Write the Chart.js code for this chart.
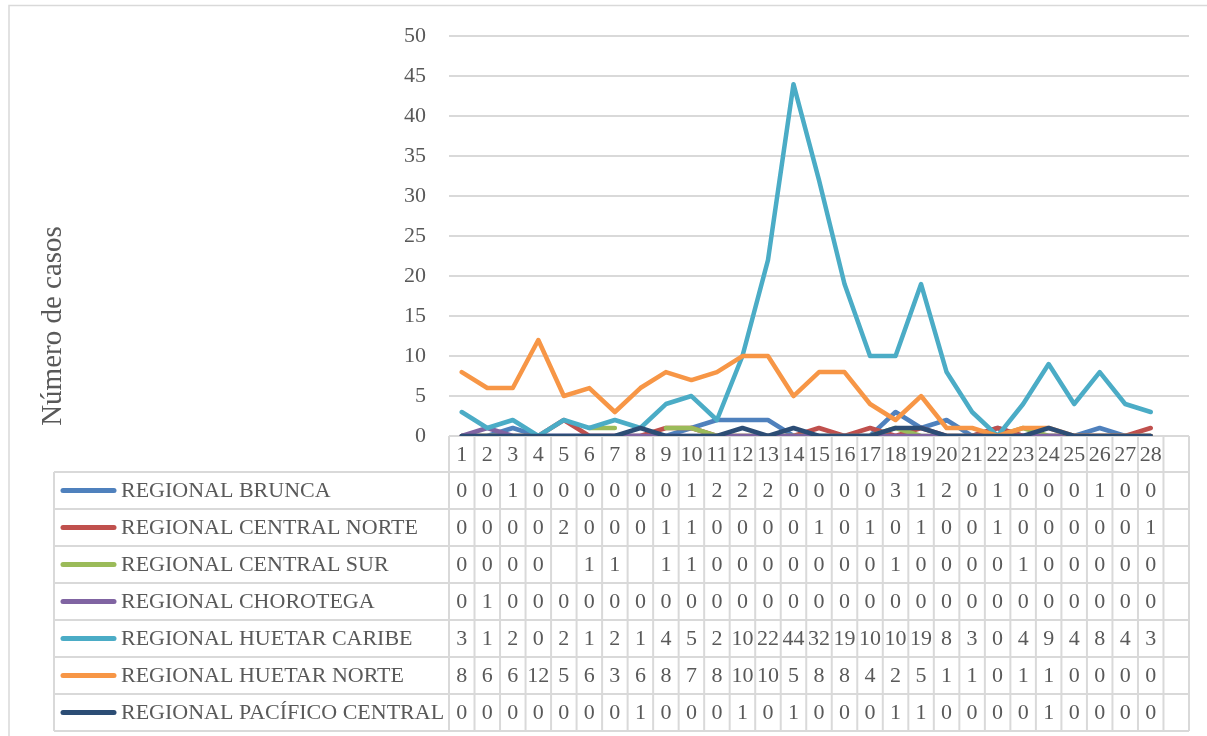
<!DOCTYPE html>
<html>
<head>
<meta charset="utf-8">
<script src="https://cdn.jsdelivr.net/npm/chart.js@4.4.0/dist/chart.umd.min.js"></script>
<style>
    html, body { margin: 0; padding: 0; background: #fff; }
    #wrap { width: 1207px; height: 736px; position: relative; }
</style>
</head>
<body>
<div id="wrap"><canvas id="casesChart" width="1207" height="736"></canvas></div>
<script>
// Weeks (last column of the data table is empty)
const weeks = ['1','2','3','4','5','6','7','8','9','10','11','12','13','14','15','16','17','18','19','20','21','22','23','24','25','26','27','28',''];

const regions = [
    'REGIONAL BRUNCA',
    'REGIONAL CENTRAL NORTE',
    'REGIONAL CENTRAL SUR',
    'REGIONAL CHOROTEGA',
    'REGIONAL HUETAR CARIBE',
    'REGIONAL HUETAR NORTE',
    'REGIONAL PACÍFICO CENTRAL'
];

const brunca        = [0,0,1,0,0,0,0,0,0,1,2,2,2,0,0,0,0,3,1,2,0,1,0,0,0,1,0,0];
const centralNorte  = [0,0,0,0,2,0,0,0,1,1,0,0,0,0,1,0,1,0,1,0,0,1,0,0,0,0,0,1];
const centralSur    = [0,0,0,0,null,1,1,null,1,1,0,0,0,0,0,0,0,1,0,0,0,0,1,0,0,0,0,0];
const chorotega     = [0,1,0,0,0,0,0,0,0,0,0,0,0,0,0,0,0,0,0,0,0,0,0,0,0,0,0,0];
const huetarCaribe  = [3,1,2,0,2,1,2,1,4,5,2,10,22,44,32,19,10,10,19,8,3,0,4,9,4,8,4,3];
const huetarNorte   = [8,6,6,12,5,6,3,6,8,7,8,10,10,5,8,8,4,2,5,1,1,0,1,1,0,0,0,0];
const pacificoCentral = [0,0,0,0,0,0,0,1,0,0,0,1,0,1,0,0,0,1,1,0,0,0,0,1,0,0,0,0];

const yTicks = [0, 5, 10, 15, 20, 25, 30, 35, 40, 45, 50];

const seriesValues = [brunca, centralNorte, centralSur, chorotega, huetarCaribe, huetarNorte, pacificoCentral];
const colors = ['#4f81bd', '#c0504d', '#9bbb59', '#8064a2', '#4bacc6', '#f79646', '#2c4d75'];

const FONT = '"Liberation Serif", "DejaVu Serif", serif';
const TEXT = '#595959';
const GRID = '#d9d9d9';

// Table geometry
const ROW_H = 37;
const HEADER_BOTTOM = 472;
const TABLE_LEFT = 54;

// Draws the outer border, the data table with legend keys and the axis title
const tablePlugin = {
    id: 'dataTable',
    beforeDraw(chart) {
        const ctx = chart.ctx;
        ctx.save();
        ctx.strokeStyle = GRID;
        ctx.lineWidth = 1.5;
        ctx.beginPath();
        ctx.moveTo(9, 740);
        ctx.lineTo(9, 5.5);
        ctx.lineTo(1207, 5.5);
        ctx.stroke();
        ctx.restore();
    },
    afterDraw(chart) {
        const ctx = chart.ctx;
        const x = chart.scales.x;
        const area = chart.chartArea;
        const colW = (area.right - area.left) / weeks.length;
        const bottom = HEADER_BOTTOM + ROW_H * regions.length;

        ctx.save();
        ctx.strokeStyle = GRID;
        ctx.lineWidth = 2;

        // horizontal lines
        for (let r = 0; r <= regions.length; r++) {
            const y = HEADER_BOTTOM + r * ROW_H;
            ctx.beginPath();
            ctx.moveTo(TABLE_LEFT, y);
            ctx.lineTo(area.right, y);
            ctx.stroke();
        }
        // vertical lines of the value columns
        for (let c = 0; c <= weeks.length; c++) {
            const xx = area.left + c * colW;
            ctx.beginPath();
            ctx.moveTo(xx, area.bottom);
            ctx.lineTo(xx, bottom);
            ctx.stroke();
        }
        ctx.beginPath();
        ctx.moveTo(TABLE_LEFT, HEADER_BOTTOM);
        ctx.lineTo(TABLE_LEFT, bottom);
        ctx.stroke();

        ctx.fillStyle = TEXT;
        ctx.font = '22px ' + FONT;
        ctx.textAlign = 'center';
        ctx.textBaseline = 'middle';

        // week labels
        weeks.forEach((w, i) => {
            ctx.fillText(w, x.getPixelForValue(i), (area.bottom + HEADER_BOTTOM) / 2 + 1);
        });

        // rows
        regions.forEach((name, r) => {
            const cy = HEADER_BOTTOM + r * ROW_H + ROW_H / 2 + 1;
            ctx.strokeStyle = colors[r];
            ctx.lineWidth = 5;
            ctx.lineCap = 'round';
            ctx.beginPath();
            ctx.moveTo(63, cy - 1);
            ctx.lineTo(114, cy - 1);
            ctx.stroke();

            ctx.textAlign = 'left';
            ctx.fillText(name, 121, cy);
            ctx.textAlign = 'center';
            seriesValues[r].forEach((v, i) => {
                if (v === null) return;
                ctx.fillText(String(v), x.getPixelForValue(i), cy);
            });
        });

        // y axis title
        ctx.translate(53, 326);
        ctx.rotate(-Math.PI / 2);
        ctx.font = '29px ' + FONT;
        ctx.fillText('Número de casos', 0, 0);
        ctx.restore();
    }
};

const datasets = regions.map((name, i) => ({
    label: name,
    data: seriesValues[i],
    borderColor: colors[i],
    backgroundColor: colors[i],
    borderWidth: 4.5,
    pointRadius: 0,
    tension: 0,
    spanGaps: false,
    borderJoinStyle: 'round',
    borderCapStyle: 'round',
    order: regions.length - i
}));

new Chart(document.getElementById('casesChart').getContext('2d'), {
    type: 'line',
    data: { labels: weeks, datasets: datasets },
    plugins: [tablePlugin],
    options: {
        responsive: false,
        animation: false,
        layout: { padding: { left: 0, top: 34, right: 18, bottom: 300 } },
        plugins: {
            legend: { display: false },
            tooltip: { enabled: false }
        },
        scales: {
            x: {
                display: false,
                offset: true
            },
            y: {
                min: 0,
                max: 50,
                afterFit(scale) { scale.width = 449; },
                afterBuildTicks(scale) { scale.ticks = yTicks.map(v => ({ value: v })); },
                border: { display: false },
                grid: { color: GRID, lineWidth: 2, drawTicks: false },
                ticks: {
                    color: TEXT,
                    padding: 23,
                    font: { family: FONT, size: 22 }
                }
            }
        }
    }
});
</script>
</body>
</html>
